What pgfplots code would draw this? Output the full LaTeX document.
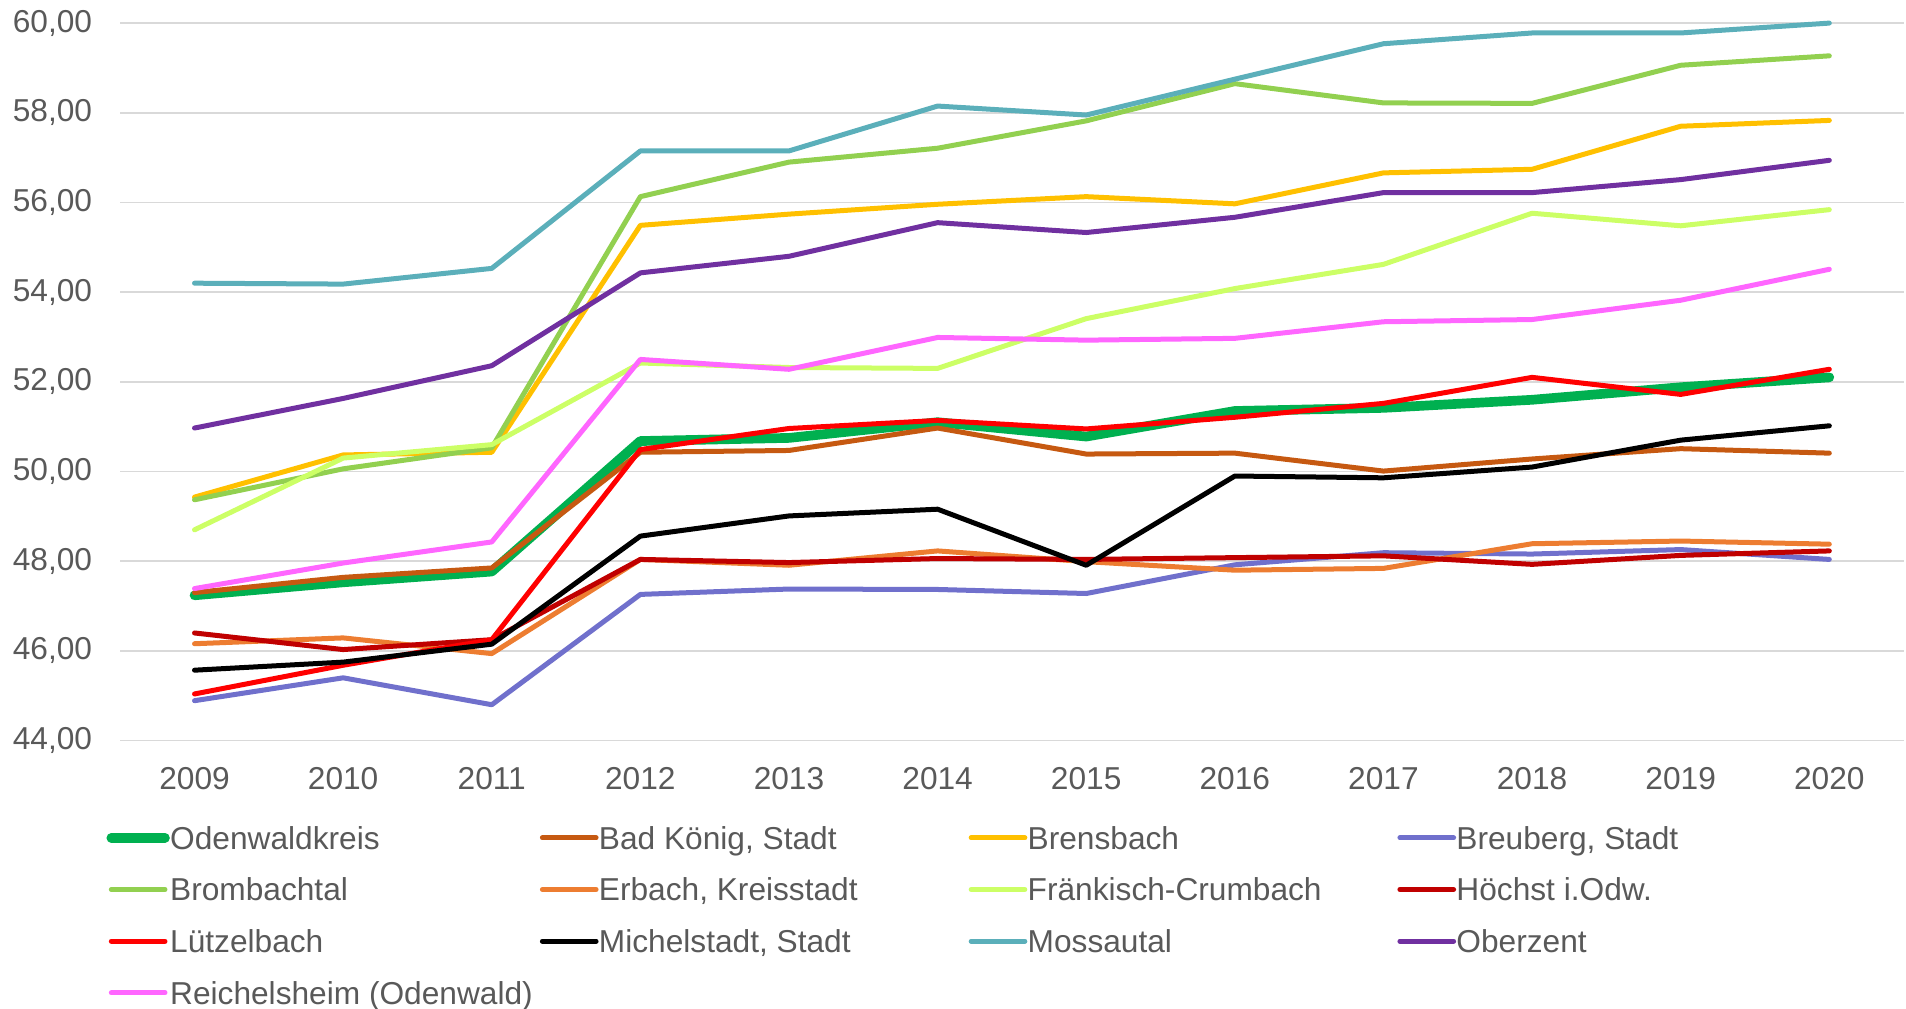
\documentclass[border=0pt]{standalone}
\usepackage{fontspec}
\setmainfont{Liberation Sans}
\usepackage{pgfplots}
\usepackage{pgfplotstable}
\pgfplotsset{compat=1.18}

\definecolor{txtgray}{HTML}{595959}
\definecolor{gridgray}{HTML}{D9D9D9}
\definecolor{cOdw}{HTML}{00B050}
\definecolor{cBadK}{HTML}{C65911}
\definecolor{cBrens}{HTML}{FFC000}
\definecolor{cBreub}{HTML}{7070CC}
\definecolor{cBromb}{HTML}{92D050}
\definecolor{cErb}{HTML}{ED7D31}
\definecolor{cFraenk}{HTML}{CCFF66}
\definecolor{cHoech}{HTML}{C00000}
\definecolor{cLuetz}{HTML}{FF0000}
\definecolor{cMich}{HTML}{000000}
\definecolor{cMoss}{HTML}{5BAFBA}
\definecolor{cOber}{HTML}{7030A0}
\definecolor{cReich}{HTML}{FF66FF}

% values per year, read off the chart
\pgfplotstableread{
year odw   badk  brens breub bromb erb   fraenk hoech luetz mich  moss  ober  reich
2009 47.24 47.30 49.43 44.89 49.37 46.16 48.70  46.40 45.04 45.57 54.20 50.97 47.39
2010 47.53 47.64 50.37 45.40 50.06 46.29 50.30  46.03 45.68 45.75 54.18 51.63 47.96
2011 47.77 47.85 50.43 44.80 50.53 45.94 50.60  46.25 46.25 46.15 54.53 52.36 48.43
2012 50.68 50.43 55.49 47.26 56.13 48.04 52.42  48.04 50.49 48.56 57.15 54.43 52.50
2013 50.75 50.47 55.74 47.38 56.90 47.91 52.32  47.97 50.96 49.01 57.15 54.80 52.28
2014 51.10 50.97 55.96 47.37 57.21 48.23 52.30  48.06 51.14 49.16 58.15 55.55 52.99
2015 50.78 50.39 56.13 47.28 57.82 47.99 53.41  48.04 50.95 47.91 57.95 55.33 52.93
2016 51.35 50.41 55.97 47.92 58.65 47.80 54.08  48.08 51.21 49.90 58.75 55.67 52.97
2017 51.42 50.01 56.66 48.19 58.22 47.84 54.62  48.12 51.52 49.86 59.54 56.22 53.34
2018 51.60 50.28 56.74 48.16 58.21 48.39 55.76  47.93 52.10 50.10 59.78 56.22 53.39
2019 51.88 50.51 57.70 48.26 59.06 48.45 55.48  48.13 51.72 50.70 59.78 56.51 53.82
2020 52.10 50.41 57.83 48.04 59.27 48.38 55.84  48.23 52.28 51.02 60.00 56.94 54.51
}\data

\begin{document}
\begin{tikzpicture}
\begin{axis}[
    name=ax,
    scale only axis,
    width=534.9pt, height=215.2pt,
    xmin=2008.5, xmax=2020.5,
    ymin=44, ymax=60,
    xtick={2009,2010,...,2020},
    ytick={44,46,...,60},
    axis line style={draw=none},
    major tick length=0pt,
    ymajorgrids,
    grid style={color=gridgray, line width=0.45pt},
    clip=false,
    /pgf/number format/assume math mode=true,
    ticklabel style={font=\fontsize{9.5}{11}\selectfont, text=txtgray},
    xticklabel style={/pgf/number format/1000 sep={}, yshift=-4.5pt},
    yticklabel style={/pgf/number format/.cd, fixed, fixed zerofill,
                      precision=2, use comma, /tikz/xshift=-4.9pt},
    every axis plot/.append style={line width=1.5pt, line join=round,
                                   line cap=round},
    legend columns=4,
    legend cell align=left,
    legend image code/.code={\draw[#1, shorten >=-0.6pt] (0pt,1.1pt) -- (15.5pt,1.1pt);},
    legend style={
        at={(axis description cs:-0.0077,-0.1197)}, anchor=north west,
        draw=none, fill=none, inner sep=0pt, outer sep=0pt,
        row sep=6.5pt,
        font=\fontsize{9.5}{11}\selectfont, text=txtgray,
        nodes={inner xsep=0.7pt, inner ysep=0pt,
               text height=6.8pt, text depth=2.2pt},
        /tikz/every even column/.append style={column sep=0pt},
    },
]
\addplot[cOdw, line width=2.9pt] table[x=year, y=odw] {\data};
\addlegendentry{\makebox[110.2pt][l]{Odenwaldkreis}}
\addplot[cBadK] table[x=year, y=badk] {\data};
\addlegendentry{\makebox[110.2pt][l]{Bad König, Stadt}}
\addplot[cBrens] table[x=year, y=brens] {\data};
\addlegendentry{\makebox[110.2pt][l]{Brensbach}}
\addplot[cBreub] table[x=year, y=breub] {\data};
\addlegendentry{\makebox[110.2pt][l]{Breuberg, Stadt}}
\addplot[cBromb] table[x=year, y=bromb] {\data};
\addlegendentry{\makebox[110.2pt][l]{Brombachtal}}
\addplot[cErb] table[x=year, y=erb] {\data};
\addlegendentry{\makebox[110.2pt][l]{Erbach, Kreisstadt}}
\addplot[cFraenk] table[x=year, y=fraenk] {\data};
\addlegendentry{\makebox[110.2pt][l]{Fränkisch-Crumbach}}
\addplot[cHoech] table[x=year, y=hoech] {\data};
\addlegendentry{\makebox[110.2pt][l]{Höchst i.Odw.}}
\addplot[cLuetz] table[x=year, y=luetz] {\data};
\addlegendentry{\makebox[110.2pt][l]{Lützelbach}}
\addplot[cMich] table[x=year, y=mich] {\data};
\addlegendentry{\makebox[110.2pt][l]{Michelstadt, Stadt}}
\addplot[cMoss] table[x=year, y=moss] {\data};
\addlegendentry{\makebox[110.2pt][l]{Mossautal}}
\addplot[cOber] table[x=year, y=ober] {\data};
\addlegendentry{\makebox[110.2pt][l]{Oberzent}}
\addplot[cReich] table[x=year, y=reich] {\data};
\addlegendentry{\makebox[110.2pt][l]{Reichelsheim (Odenwald)}}
\end{axis}
% fix the page to the reference's frame
\pgfresetboundingbox
\path[use as bounding box] ([xshift=-36.06pt, yshift=-80.3pt]ax.south west)
      rectangle ([xshift=0.72pt, yshift=6.93pt]ax.north east);
\end{tikzpicture}
\end{document}
